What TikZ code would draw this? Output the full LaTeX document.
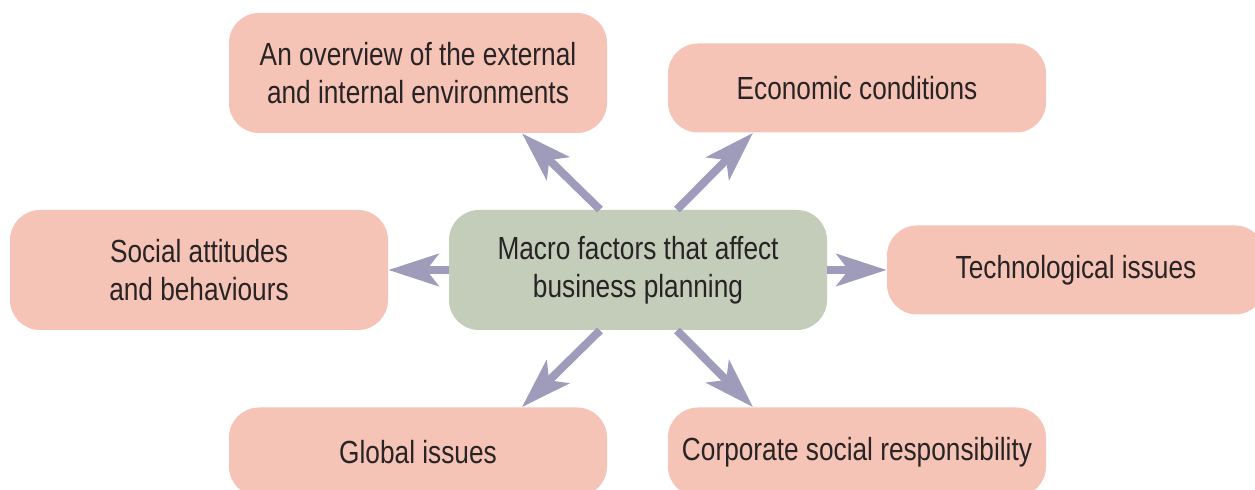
\documentclass[tikz,border=0pt]{standalone}
\usepackage{fontspec}
\setmainfont{Liberation Sans}[FakeStretch=0.82]
\usetikzlibrary{arrows.meta}
\definecolor{factorpink}{RGB}{246,196,183}
\definecolor{centregreen}{RGB}{196,205,185}
\definecolor{arrowlilac}{RGB}{158,155,187}
\definecolor{textgrey}{RGB}{40,36,37}
\tikzset{
  factor/.style={fill=factorpink, rounded corners=15pt, minimum width=189pt,
    minimum height=44.5pt, align=center, text=textgrey,
    font=\fontsize{16}{19}\selectfont},
  tallfactor/.style={factor, minimum height=60pt},
  spoke/.style={arrowlilac, line width=4pt,
    -{Stealth[length=25pt,width=16pt,inset=6pt]}}
}
\begin{document}
\begin{tikzpicture}[x=0.5pt,y=-0.5pt]
    \clip (0,0) rectangle (1255,490);
    \fill[white] (0,0) rectangle (1255,490);
    \node[tallfactor, fill=centregreen] (centre) at (638,270) {Macro factors that affect\\business planning};
    \node[tallfactor] (overview) at (418,73) {An overview of the external\\and internal environments};
    \node[factor] (economic) at (857,88) {Economic conditions};
    \node[tallfactor] (social) at (199,270) {Social attitudes\\and behaviours};
    \node[factor] (tech) at (1076,270) {Technological issues};
    \node[factor] (global) at (418,452) {Global issues};
    \node[factor] (corporate) at (857,452) {Corporate social responsibility};
    % spokes out of the centre box
    \draw[spoke] ([xshift=-19pt]centre.north) -- ([xshift=52pt]overview.south);
    \draw[spoke] ([xshift=19.5pt]centre.north) -- ([xshift=-52pt]economic.south);
    \draw[spoke] (centre.west) -- (social.east);
    \draw[spoke] (centre.east) -- (tech.west);
    \draw[spoke] ([xshift=-19pt]centre.south) -- ([xshift=52pt]global.north);
    \draw[spoke] ([xshift=19.5pt]centre.south) -- ([xshift=-52pt]corporate.north);
\end{tikzpicture}
\end{document}
